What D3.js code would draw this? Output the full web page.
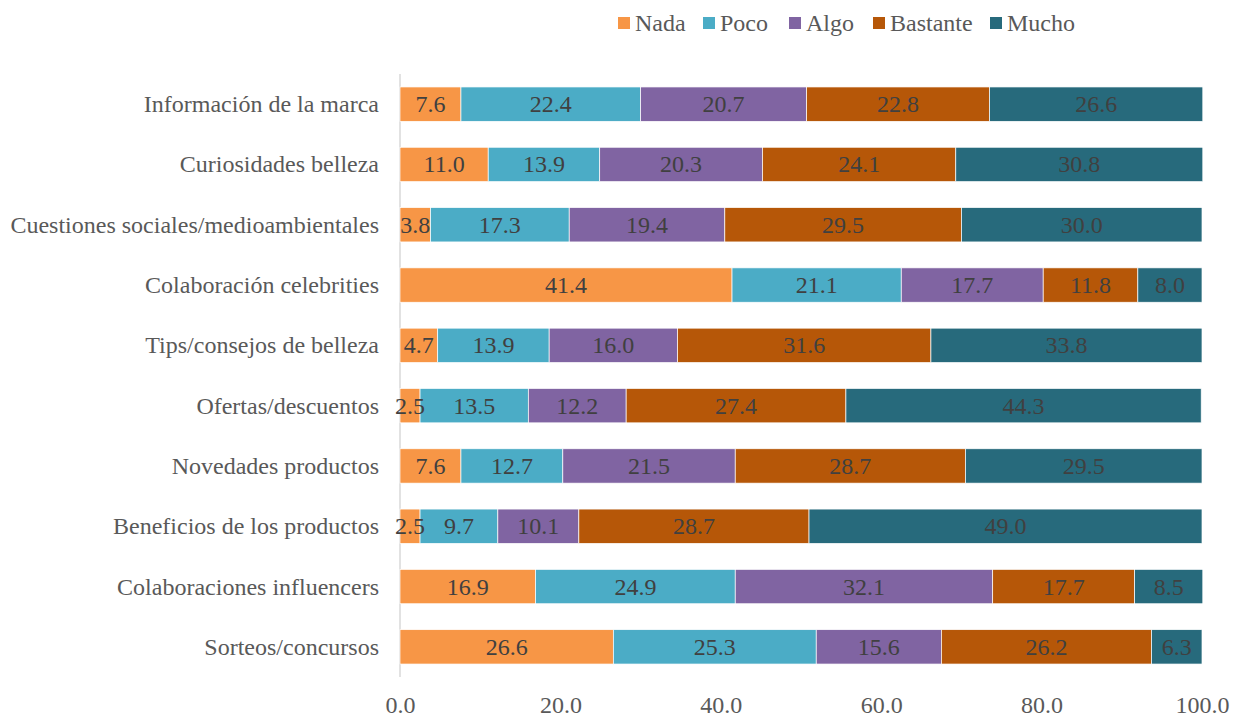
<!DOCTYPE html>
<html><head><meta charset="utf-8">
<script src="https://cdn.jsdelivr.net/npm/d3@7"></script>
<style>body{margin:0;background:#fff}svg{display:block}text{font-family:"Liberation Serif","Times New Roman",serif}</style>
</head><body><svg id="c" width="1241" height="717"></svg>
<script>
const categories = ["Información de la marca","Curiosidades belleza","Cuestiones sociales/medioambientales","Colaboración celebrities","Tips/consejos de belleza","Ofertas/descuentos","Novedades productos","Beneficios de los productos","Colaboraciones influencers","Sorteos/concursos"];
const seriesNames = ["Nada","Poco","Algo","Bastante","Mucho"];
const nada = [7.6,11.0,3.8,41.4,4.7,2.5,7.6,2.5,16.9,26.6];
const poco = [22.4,13.9,17.3,21.1,13.9,13.5,12.7,9.7,24.9,25.3];
const algo = [20.7,20.3,19.4,17.7,16.0,12.2,21.5,10.1,32.1,15.6];
const bastante = [22.8,24.1,29.5,11.8,31.6,27.4,28.7,28.7,17.7,26.2];
const mucho = [26.6,30.8,30.0,8.0,33.8,44.3,29.5,49.0,8.5,6.3];
const tickValues = [0,20,40,60,80,100];
const colors = ["#F79646","#4BACC6","#8064A2","#B65708","#276A7C"];

const seriesVals = [nada,poco,algo,bastante,mucho];
const rows = categories.map((c,i)=>{const o={cat:c}; seriesNames.forEach((s,j)=>o[s]=seriesVals[j][i]); return o;});
const stack = d3.stack().keys(seriesNames)(rows);

const svg = d3.select("#c");
const x = d3.scaleLinear().domain([0,100]).range([400,1202]);
const y = d3.scaleBand().domain(categories).range([74,677]).paddingInner(0.43).paddingOuter(0.215);
const color = d3.scaleOrdinal().domain(seriesNames).range(colors);
const FS = 24;

svg.append("line").attr("x1",x(0)).attr("x2",x(0)).attr("y1",74).attr("y2",677).attr("stroke","#d9d9d9").attr("stroke-width",1.5);

const g = svg.append("g");
stack.forEach(layer=>{
  const lg = g.append("g").attr("fill",color(layer.key));
  lg.selectAll("rect").data(layer).join("rect")
    .attr("x",d=>x(d[0])).attr("width",d=>x(d[1])-x(d[0]))
    .attr("y",d=>y(d.data.cat)).attr("height",y.bandwidth())
    .attr("stroke","#fff").attr("stroke-width",0.7);
});
stack.forEach(layer=>{
  g.append("g").selectAll("text").data(layer).join("text")
    .attr("x",d=>(x(d[0])+x(d[1]))/2).attr("y",d=>y(d.data.cat)+y.bandwidth()/2)
    .attr("text-anchor","middle").attr("dominant-baseline","central")
    .attr("font-size",FS).attr("fill","#404040")
    .text(d=>(d[1]-d[0]).toFixed(1));
});

const ya = d3.axisLeft(y).tickSize(0).tickPadding(21);
svg.append("g").attr("transform",`translate(${x(0)},0)`).call(ya)
  .call(s=>s.select(".domain").remove())
  .selectAll("text").attr("font-size",FS).attr("fill","#595959").attr("dy",null).attr("dominant-baseline","central").attr("font-family","Liberation Serif, Times New Roman, serif");

const xa = d3.axisBottom(x).tickValues(tickValues).tickFormat(d3.format(".1f")).tickSize(0).tickPadding(0);
svg.append("g").attr("transform","translate(0,705)").call(xa)
  .call(s=>s.select(".domain").remove())
  .selectAll("text").attr("font-size",FS).attr("fill","#595959").attr("y",0).attr("dy",null).attr("dominant-baseline","central").attr("font-family","Liberation Serif, Times New Roman, serif");

const legX = [618,703,789,873,990];
const leg = svg.append("g");
seriesNames.forEach((s,i)=>{
  leg.append("rect").attr("x",legX[i]).attr("y",17).attr("width",12).attr("height",12).attr("fill",colors[i]);
  leg.append("text").attr("x",legX[i]+17).attr("y",23).attr("dominant-baseline","central")
    .attr("font-size",FS).attr("fill","#595959").text(s);
});
</script></body></html>
